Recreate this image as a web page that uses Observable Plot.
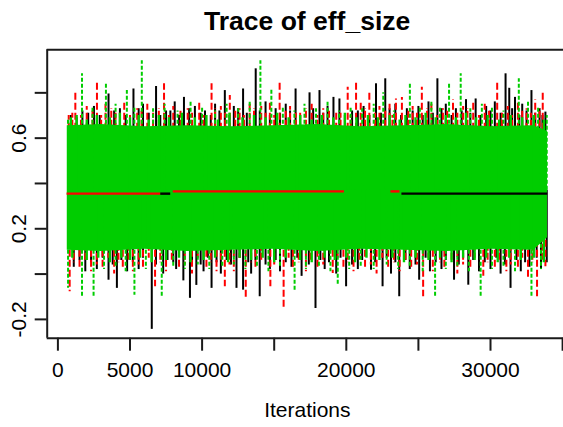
<!DOCTYPE html>
<html>
<head>
<meta charset="utf-8">
<script src="https://cdn.jsdelivr.net/npm/d3@7"></script>
<script src="https://cdn.jsdelivr.net/npm/@observablehq/plot@0.6"></script>
<style>
  html, body { margin: 0; padding: 0; background: #fff; }
  #chart svg { display: block; }
</style>
</head>
<body>
<div id="chart"></div>
<script>
// ---- data ----
const title = "Trace of eff_size";
const xLabel = "Iterations";
const xTicks = [0, 5000, 10000, 15000, 20000, 25000, 30000, 35000];
const xTickLabels = [0, 5000, 10000, 20000, 30000];
const yTicks = [-0.2, 0, 0.2, 0.4, 0.6, 0.8];
const yTickLabels = [-0.2, 0.2, 0.6];
const xDomain = [-742, 35062];
const yDomain = [-0.283, 0.990];
const chainMean = 0.37;

// dense core of the three overlapping chains (green drawn last)
const bandIter   = [650, 3000, 6000, 9000, 12000, 15000, 18000, 21000, 24000, 27000, 30000, 33000, 33950];
const bandTop    = [0.655, 0.66, 0.65, 0.655, 0.65, 0.655, 0.66, 0.65, 0.655, 0.66, 0.65, 0.655, 0.63];
const bandBottom = [0.105, 0.10, 0.11, 0.10, 0.105, 0.11, 0.10, 0.11, 0.105, 0.10, 0.11, 0.105, 0.16];

// chain 1 (black) excursions [iteration, value]
const blackHigh = [[900,0.70],[1700,0.72],[2500,0.74],[3511,0.795],[4300,0.73],[5240,0.817],[5900,0.75],[6807,0.828],[7500,0.72],[8100,0.76],[8742,0.78],[9500,0.74],[10200,0.72],[10900,0.75],[11576,0.81],[12200,0.74],[12842,0.817],[13718,0.906],[14400,0.76],[15100,0.73],[15800,0.75],[16483,0.817],[17450,0.80],[18141,0.81],[18700,0.74],[19109,0.78],[19523,0.773],[20400,0.72],[21200,0.74],[22060,0.84],[22702,0.862],[23400,0.75],[24200,0.73],[25000,0.74],[25700,0.76],[26317,0.862],[26900,0.75],[27600,0.73],[28300,0.77],[28970,0.773],[29700,0.74],[30300,0.76],[31044,0.884],[31300,0.82],[31700,0.78],[32200,0.75],[32840,0.81],[33400,0.73],[33808,0.715]];
const blackLow = [[1100,0.03],[1900,0.01],[2700,0.02],[3511,-0.027],[4091,-0.063],[4800,0.01],[5600,0.02],[6510,-0.244],[7300,0.0],[8200,0.02],[8700,-0.03],[9157,-0.107],[9600,-0.05],[10100,0.01],[10656,-0.063],[11300,0.0],[12384,-0.063],[12842,-0.071],[13400,0.0],[13995,-0.10],[14700,0.02],[15400,0.01],[16200,0.03],[16900,-0.01],[17864,-0.152],[18500,0.02],[19300,0.0],[19986,-0.056],[20800,0.02],[21714,0.017],[22515,-0.056],[23100,0.0],[23670,-0.10],[24400,0.02],[25052,-0.027],[25800,0.01],[26600,0.02],[27471,-0.027],[28459,-0.049],[29200,0.01],[30000,0.02],[30700,0.0],[31389,-0.063],[32100,0.01],[32700,0.03],[33500,0.02],[33900,0.05]];
const blackFringeHigh = [[1300,0.69],[2100,0.71],[2900,0.70],[3900,0.72],[4700,0.70],[5600,0.73],[6300,0.71],[7100,0.70],[7800,0.72],[8400,0.70],[9100,0.73],[9900,0.71],[10600,0.70],[11200,0.72],[11900,0.70],[12500,0.73],[13100,0.71],[14000,0.72],[14700,0.70],[15400,0.71],[16100,0.72],[16800,0.70],[17700,0.73],[18400,0.71],[19900,0.70],[20800,0.72],[21600,0.70],[22400,0.71],[23000,0.73],[23800,0.70],[24600,0.72],[25300,0.70],[26000,0.71],[26600,0.73],[27300,0.70],[28000,0.72],[28600,0.71],[29300,0.70],[30000,0.72],[30700,0.71],[31500,0.73],[32000,0.70],[32500,0.72],[33100,0.71],[33600,0.70]];
const blackFringeLow = [[1500,0.06],[2300,0.05],[3100,0.07],[3800,0.04],[4400,0.06],[5200,0.05],[5900,0.07],[6800,0.04],[7600,0.06],[8000,0.05],[9300,0.06],[9900,0.04],[10400,0.07],[11000,0.05],[11700,0.06],[12000,0.04],[12600,0.07],[13200,0.05],[13700,0.06],[14400,0.04],[15100,0.06],[15800,0.05],[16600,0.07],[17400,0.04],[18200,0.06],[18800,0.05],[19600,0.07],[20400,0.04],[21100,0.06],[22000,0.05],[22800,0.07],[23400,0.05],[24100,0.06],[24800,0.04],[25500,0.07],[26200,0.05],[26900,0.06],[27800,0.04],[28800,0.06],[29600,0.05],[30400,0.07],[31000,0.04],[31800,0.06],[32400,0.05],[33200,0.07]];

// chain 2 (red)
const redHigh = [[750,0.70],[1209,0.80],[2000,0.74],[2709,0.854],[3300,0.75],[4000,0.72],[4600,0.76],[5500,0.73],[6200,0.75],[7360,0.84],[8000,0.74],[9000,0.73],[9800,0.76],[10656,0.84],[11300,0.74],[11921,0.788],[12600,0.73],[13300,0.75],[14100,0.74],[14700,0.76],[15377,0.854],[16100,0.74],[16800,0.72],[17600,0.75],[18400,0.73],[19300,0.72],[20097,0.825],[20677,0.854],[21000,0.76],[21597,0.81],[22300,0.74],[23000,0.75],[23442,0.773],[23856,0.78],[24600,0.74],[25238,0.825],[25900,0.75],[26700,0.73],[27400,0.77],[28100,0.74],[28800,0.76],[29600,0.75],[30463,0.854],[31200,0.74],[31900,0.76],[32500,0.73],[33100,0.77],[33622,0.81]];
const redLow = [[816,-0.078],[1500,0.02],[2300,0.01],[3100,0.03],[3900,0.0],[4500,0.02],[5200,0.01],[5900,0.03],[6738,-0.056],[7500,0.01],[8400,0.02],[9300,0.0],[10300,0.02],[11000,0.01],[11576,-0.056],[12200,0.01],[13027,-0.115],[13700,0.02],[14734,-0.056],[15653,-0.152],[16300,0.02],[17200,0.01],[18000,0.03],[19060,0.003],[19800,0.02],[20500,0.01],[21300,0.03],[22100,0.0],[22900,0.02],[23700,0.01],[24500,0.02],[25328,-0.10],[26000,0.01],[26800,0.03],[27700,0.0],[28600,0.02],[29500,-0.01],[30300,0.02],[31100,0.01],[31900,0.03],[32600,-0.02],[33227,-0.10],[33808,0.032]];
const redFringeHigh = [[1000,0.71],[1600,0.70],[2400,0.72],[3000,0.70],[3700,0.73],[4300,0.71],[5000,0.70],[5800,0.72],[6600,0.71],[7000,0.73],[7700,0.70],[8500,0.72],[9300,0.71],[10100,0.70],[10900,0.73],[11600,0.71],[12300,0.72],[12900,0.70],[13600,0.73],[14400,0.71],[15000,0.70],[15800,0.72],[16500,0.71],[17200,0.73],[18000,0.70],[18800,0.72],[19600,0.71],[20300,0.70],[21300,0.73],[22000,0.71],[22700,0.72],[23200,0.70],[24300,0.72],[24900,0.71],[25600,0.73],[26300,0.70],[27000,0.72],[27700,0.71],[28400,0.73],[29200,0.70],[29900,0.72],[30800,0.71],[31500,0.70],[32200,0.72],[32800,0.71],[33400,0.73]];
const redFringeLow = [[1100,0.05],[1900,0.06],[2700,0.04],[3500,0.07],[4200,0.05],[4900,0.06],[5600,0.04],[6300,0.07],[7100,0.05],[7900,0.06],[8800,0.04],[9700,0.07],[10600,0.05],[11300,0.06],[11900,0.04],[12600,0.07],[13400,0.05],[14100,0.06],[15000,0.04],[16000,0.07],[16700,0.05],[17500,0.06],[18400,0.04],[19400,0.07],[20100,0.05],[20900,0.06],[21700,0.04],[22500,0.07],[23300,0.05],[24100,0.06],[24900,0.04],[25700,0.07],[26500,0.05],[27300,0.06],[28100,0.04],[28900,0.07],[29800,0.05],[30600,0.06],[31400,0.04],[32200,0.07],[32900,0.05],[33600,0.06]];

// chain 3 (green, dashed)
const greenHigh = [[700,0.68],[1672,0.884],[2400,0.74],[3331,0.84],[4000,0.75],[4782,0.81],[5300,0.74],[5819,0.942],[6600,0.73],[7400,0.75],[8300,0.72],[9200,0.76],[10000,0.74],[10900,0.72],[11700,0.75],[12500,0.73],[13300,0.76],[14043,0.942],[14803,0.817],[15600,0.74],[16400,0.72],[17100,0.75],[17900,0.73],[18700,0.76],[19500,0.72],[20300,0.74],[21100,0.73],[21900,0.75],[22564,0.80],[23300,0.72],[24409,0.84],[25100,0.74],[25900,0.76],[26500,0.74],[27125,0.84],[27933,0.884],[28600,0.73],[29400,0.75],[30100,0.74],[30900,0.72],[31963,0.862],[32600,0.76],[33300,0.74],[33900,0.70]];
const greenLow = [[705,-0.063],[1672,-0.103],[2474,-0.103],[3200,0.02],[4000,0.03],[4700,0.01],[5307,-0.093],[6100,0.02],[7201,-0.103],[8000,0.03],[8800,0.02],[9700,0.04],[10500,0.02],[11400,0.03],[12200,0.04],[13000,0.02],[13800,0.03],[14600,0.01],[15400,0.03],[16414,-0.071],[17200,0.02],[18100,0.03],[18900,0.01],[19406,-0.049],[20200,0.02],[21000,0.03],[21900,0.02],[22800,0.04],[23600,0.02],[24400,0.03],[25300,0.01],[26157,-0.10],[26900,0.02],[27700,0.03],[28500,0.01],[29316,-0.10],[30100,0.02],[30900,0.03],[31700,0.01],[32840,-0.10],[33500,0.02]];
const greenFringeHigh = [[900,0.69],[1300,0.70],[2000,0.68],[2700,0.70],[3600,0.69],[4300,0.71],[5000,0.69],[5600,0.70],[6300,0.68],[7000,0.70],[7700,0.69],[8600,0.71],[9500,0.69],[10300,0.70],[11100,0.68],[11900,0.71],[12800,0.69],[13600,0.70],[14400,0.69],[15200,0.71],[16000,0.69],[16800,0.70],[17600,0.68],[18300,0.70],[19100,0.69],[19900,0.71],[20700,0.69],[21500,0.70],[22200,0.69],[23000,0.70],[23700,0.68],[24100,0.70],[24800,0.69],[25500,0.71],[26200,0.69],[26900,0.70],[27600,0.69],[28300,0.71],[29000,0.69],[29800,0.70],[30600,0.68],[31400,0.70],[32200,0.69],[33000,0.70],[33700,0.68]];
const greenFringeLow = [[1000,0.07],[2000,0.06],[2800,0.07],[3600,0.05],[4400,0.07],[5000,0.06],[5700,0.07],[6500,0.05],[7500,0.06],[8400,0.07],[9200,0.05],[10100,0.06],[10900,0.07],[11800,0.05],[12600,0.07],[13400,0.06],[14200,0.07],[15000,0.05],[15800,0.07],[16800,0.06],[17600,0.05],[18500,0.07],[19200,0.06],[20000,0.07],[20600,0.05],[21400,0.07],[22300,0.06],[23200,0.07],[24000,0.05],[24800,0.07],[25700,0.06],[26500,0.07],[27300,0.05],[28100,0.07],[28900,0.06],[29700,0.07],[30500,0.05],[31300,0.07],[32100,0.06],[33000,0.07],[33700,0.05]];

// horizontal stretches visible through the core
const flatIterStart = [636, 7132, 8003, 23096, 23856];
const flatIterEnd   = [7132, 7823, 19869, 23718, 33967];
const flatValue     = [0.355, 0.355, 0.365, 0.365, 0.355];
const flatChain     = ["red", "black", "red", "red", "black"];

// ---- build ----
const band = bandIter.map((x, i) => ({x, top: bandTop[i], bottom: bandBottom[i]}));
const flats = flatIterStart.map((s, i) => ({x1: s, x2: flatIterEnd[i], y: flatValue[i], c: flatChain[i]}));
const GREEN = "#00cd00", RED = "#ff0000", BLACK = "#000000", AXIS = "#1a1a1a";
const FONT = "'Liberation Sans', Arial, Helvetica, sans-serif";

const spikes = (data, stroke, dash, w = 2) => Plot.ruleX(data, {
  x: d => d[0], y1: chainMean, y2: d => d[1], stroke, strokeWidth: w,
  strokeDasharray: dash
});

const chart = Plot.plot({
  width: 563,
  height: 427,
  marginLeft: 46.7,
  marginRight: 0,
  marginTop: 49.3,
  marginBottom: 89.3,
  style: {fontFamily: FONT, background: "#fff", color: "#000"},
  x: {domain: xDomain},
  y: {domain: yDomain},
  marks: [
    spikes(blackFringeHigh, BLACK),
    spikes(blackFringeLow, BLACK),
    spikes(blackHigh, BLACK),
    spikes(blackLow, BLACK),
    spikes(redFringeHigh, RED, "7,2"),
    spikes(redFringeLow, RED, "7,2"),
    spikes(redHigh, RED, "7,3"),
    spikes(redLow, RED, "7,3"),
    Plot.areaY(band, {x: "x", y1: "bottom", y2: "top", fill: GREEN}),
    spikes(greenFringeHigh, GREEN, null, 2.4),
    spikes(greenFringeLow, GREEN, null, 2.4),
    spikes(greenHigh, GREEN, "4,2"),
    spikes(greenLow, GREEN, "4,2"),
    Plot.ruleY(flats, {y: "y", x1: "x1", x2: "x2", stroke: d => d.c, strokeWidth: 2.4}),
    // box
    Plot.ruleY(yDomain, {stroke: AXIS, strokeWidth: 2}),
    Plot.ruleX([xDomain[0]], {stroke: AXIS, strokeWidth: 2}),
    // axes
    Plot.axisX({ticks: xTicks, tickSize: 13, tickPadding: 11, fontSize: 21,
      tickFormat: d => xTickLabels.includes(d) ? String(d) : "", label: null,
      stroke: AXIS, strokeWidth: 2}),
    Plot.axisY({ticks: yTicks, tickSize: 12, tickFormat: () => "", label: null,
      stroke: AXIS, strokeWidth: 2}),
    Plot.text(yTickLabels, {y: d => d, text: d => String(d), frameAnchor: "left",
      dx: -28.4, rotate: -90, fontSize: 21, textAnchor: "middle", lineAnchor: "middle", fill: "#000"}),
    Plot.text([title], {frameAnchor: "top", dx: 1.8, dy: -28.6, fontSize: 26.5,
      fontWeight: "bold", lineAnchor: "middle", fill: "#000"}),
    Plot.text([xLabel], {frameAnchor: "bottom", dx: 2, dy: 72.3, fontSize: 21,
      lineAnchor: "middle", fill: "#000"})
  ]
});
document.getElementById("chart").appendChild(chart);
</script>
</body>
</html>
